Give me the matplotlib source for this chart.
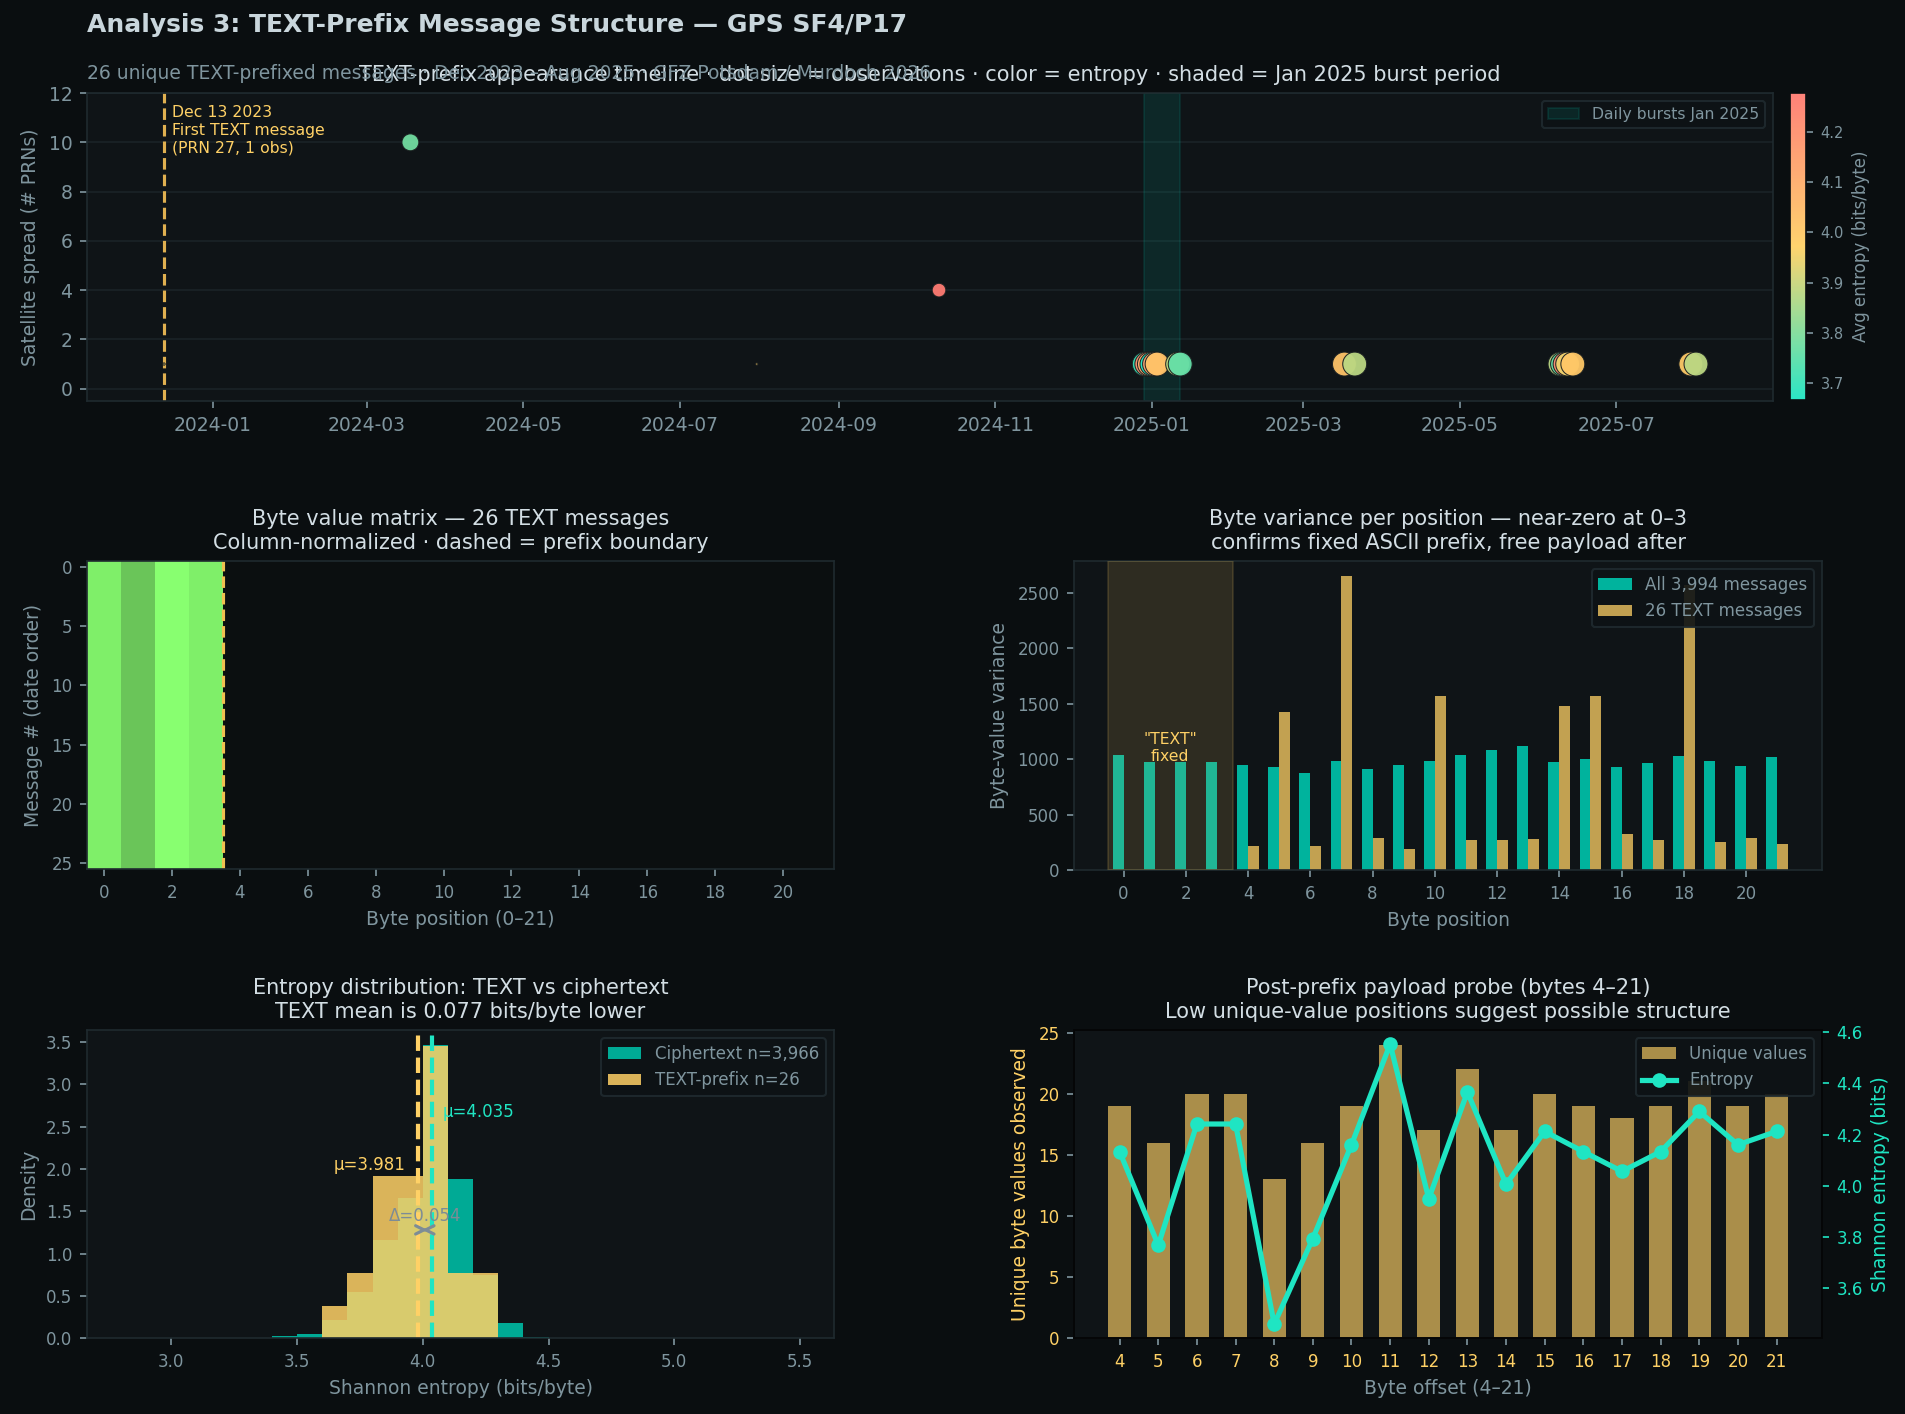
import numpy as np
import pandas as pd
import matplotlib
matplotlib.use("Agg")
import matplotlib.pyplot as plt
import matplotlib.dates as mdates
from matplotlib.colors import LinearSegmentedColormap

# ---------------- data ----------------
# timeline: one dot per day with TEXT-prefix messages
msg_dates = ["2023-12-13", "2024-03-18", "2024-07-31", "2024-10-10",
             "2024-12-29", "2024-12-30", "2024-12-31", "2025-01-01",
             "2025-01-02", "2025-01-03", "2025-01-11", "2025-01-12",
             "2025-03-17", "2025-03-21",
             "2025-06-09", "2025-06-10", "2025-06-11", "2025-06-12", "2025-06-14",
             "2025-07-30", "2025-08-01"]
msg_prns = [1, 10, 1, 4,
            1, 1, 1, 1,
            1, 1, 1, 1,
            1, 1,
            1, 1, 1, 1, 1,
            1, 1]
msg_obs = [1, 55, 1, 36,
           110, 110, 110, 110,
           110, 110, 110, 110,
           110, 110,
           110, 110, 110, 110, 110,
           110, 110]
msg_entropy = [3.96, 3.78, 3.98, 4.278,
               3.70, 4.20, 4.10, 3.666,
               4.15, 4.02, 3.88, 3.76,
               4.02, 3.88,
               3.88, 3.76, 4.22, 3.95, 4.01,
               4.00, 3.88]
first_msg = "2023-12-13"
burst_start, burst_end = "2024-12-29", "2025-01-12"

# byte value matrix (column-normalized level per byte position)
n_msgs = 26
byte_levels = [0.93, 0.76, 1.0, 0.93] + [0.0] * 18

# byte variance per position
var_all = [1037, 974, 974, 974, 947, 929, 875, 983, 911, 947, 983,
           1037, 1082, 1118, 974, 1001, 929, 965, 1028, 983, 938, 1019]
var_text = [0, 0, 0, 0, 216, 1425, 216, 2653, 289, 189, 1569,
            271, 271, 280, 1479, 1569, 325, 271, 2570, 253, 289, 234]

# entropy histograms (density, bins of 0.1 from 2.8 to 5.5)
hist_edges = np.round(np.linspace(2.8, 5.5, 28), 2)
cipher_density = [0] * 6 + [0.02, 0.043, 0.21, 0.55, 1.16, 1.66, 3.47,
                            1.887, 0.75, 0.173, 0.01] + [0] * 10
text_density = [0] * 8 + [0.385, 0.77, 1.92, 1.92, 3.46, 0.77, 0.77] + [0] * 12
mean_text, mean_cipher = 3.981, 4.035

# post-prefix probe
probe_offsets = list(range(4, 22))
probe_unique = [19, 16, 20, 20, 13, 16, 19, 24, 17, 22, 17, 20, 19, 18, 19, 21, 19, 20]
probe_entropy = [4.133, 3.768, 4.241, 4.241, 3.46, 3.794, 4.160, 4.553, 3.949,
                 4.366, 4.006, 4.212, 4.133, 4.056, 4.133, 4.290, 4.160, 4.212]

# ---------------- style ----------------
BG = "#0a0e10"
AX_BG = "#0f1417"
SPINE = "#1f2a2f"
TXT = "#d3dee4"
MUTED = "#7f959e"
TEAL = "#00b39d"
TEAL_LINE = "#1fe5c3"
GOLD = "#ffd166"

plt.rcParams["font.family"] = ["DejaVu Sans"]


def style_axes(ax, spine=SPINE, size=8):
    ax.set_facecolor(AX_BG)
    for s in ax.spines.values():
        s.set_color(spine)
    ax.tick_params(colors=MUTED, labelsize=size)


def style_legend(leg):
    leg.get_frame().set_facecolor("#0d1215")
    leg.get_frame().set_edgecolor(SPINE)
    leg.get_frame().set_alpha(0.9)
    for t in leg.get_texts():
        t.set_color(MUTED)


fig = plt.figure(figsize=(12.7, 9.4267), dpi=150, facecolor=BG)

fig.text(0.0457, 0.982, "Analysis 3: TEXT-Prefix Message Structure \u2014 GPS SF4/P17",
         fontsize=12, fontweight="bold", color="#c9d6dc", va="center")
fig.text(0.0457, 0.948, "26 unique TEXT-prefixed messages \u00b7 Dec 2023 \u2013 Aug 2025 \u00b7 "
         "GFZ Potsdam / Murdoch 2026", fontsize=9, color=MUTED, va="center")

# ---- timeline ----
ax1 = fig.add_axes([0.0457, 0.7164, 0.885, 0.2178])
cax = fig.add_axes([0.9396, 0.7171, 0.0084, 0.2171])
style_axes(ax1, size=9)
cmap = LinearSegmentedColormap.from_list("ent", ["#1fe5c3", "#ffd166", "#ff7b72"])
dates = pd.to_datetime(msg_dates)
ax1.axvspan(pd.Timestamp(burst_start), pd.Timestamp(burst_end), facecolor=TEAL,
            alpha=0.13, edgecolor=TEAL, lw=1, label="Daily bursts Jan 2025", zorder=1)
sc = ax1.scatter(dates, msg_prns, s=np.array(msg_obs) * 1.2, c=msg_entropy, cmap=cmap,
                 edgecolors="#1a1f20", linewidths=0.5, alpha=0.95, zorder=3)
ax1.axvline(pd.Timestamp(first_msg), color="#e0b050", ls="--", lw=1.5, zorder=2)
ax1.text(pd.Timestamp(first_msg) + pd.Timedelta(days=3), 11.5,
         "Dec 13 2023\nFirst TEXT message\n(PRN 27, 1 obs)",
         color=GOLD, fontsize=7.5, va="top", ha="left")
ax1.set_xlim(dates.min() - pd.Timedelta(days=30), dates.max() + pd.Timedelta(days=30))
ax1.set_ylim(-0.5, 12)
ax1.xaxis.set_major_locator(mdates.MonthLocator(bymonth=[1, 3, 5, 7, 9, 11]))
ax1.xaxis.set_major_formatter(mdates.DateFormatter("%Y-%m"))
ax1.grid(axis="y", color="#1a2327", lw=0.8)
ax1.set_axisbelow(True)
ax1.set_ylabel("Satellite spread (# PRNs)", color=MUTED, fontsize=9)
ax1.set_title("TEXT-prefix appearance timeline \u00b7 dot size = observations \u00b7 "
              "color = entropy \u00b7 shaded = Jan 2025 burst period",
              color=TXT, fontsize=10, pad=6)
style_legend(ax1.legend(loc="upper right", fontsize=7.5))
cb = fig.colorbar(sc, cax=cax)
cb.set_label("Avg entropy (bits/byte)", color=MUTED, fontsize=8)
cb.ax.tick_params(colors=MUTED, labelsize=7)
cb.outline.set_edgecolor(BG)

# ---- byte matrix ----
ax2 = fig.add_axes([0.0457, 0.3854, 0.3921, 0.2178])
style_axes(ax2)
heat_cmap = LinearSegmentedColormap.from_list("heat", ["#0b0f10", "#88ff70"])
mat = np.tile(byte_levels, (n_msgs, 1))
ax2.imshow(mat, aspect="auto", cmap=heat_cmap, vmin=0, vmax=1, interpolation="nearest")
ax2.axvline(3.5, color="#f0c050", ls="--", lw=1.5)
ax2.set_xticks(range(0, 22, 2))
ax2.set_xlabel("Byte position (0\u201321)", color=MUTED, fontsize=9)
ax2.set_ylabel("Message # (date order)", color=MUTED, fontsize=9)
ax2.set_title("Byte value matrix \u2014 26 TEXT messages\n"
              "Column-normalized \u00b7 dashed = prefix boundary", color=TXT, fontsize=10)

# ---- byte variance ----
ax3 = fig.add_axes([0.5638, 0.3847, 0.3927, 0.2185])
style_axes(ax3)
xpos = np.arange(len(var_all))
ax3.bar(xpos - 0.175, var_all, 0.35, color=TEAL, label="All 3,994 messages")
ax3.bar(xpos + 0.175, var_text, 0.35, color=GOLD, alpha=0.75, label="26 TEXT messages")
ax3.axvspan(-0.5, 3.5, facecolor=GOLD, alpha=0.13, edgecolor=GOLD, lw=1, zorder=3)
ax3.text(1.5, 1100, '"TEXT"\nfixed', color=GOLD, fontsize=7.5, ha="center",
         va="center", zorder=4)
ax3.set_xticks(range(0, 22, 2))
ax3.set_xlabel("Byte position", color=MUTED, fontsize=9)
ax3.set_ylabel("Byte-value variance", color=MUTED, fontsize=9)
ax3.set_title("Byte variance per position \u2014 near-zero at 0\u20133\n"
              "confirms fixed ASCII prefix, free payload after", color=TXT, fontsize=10)
style_legend(ax3.legend(loc="upper right", fontsize=8))

# ---- entropy distribution ----
ax4 = fig.add_axes([0.0457, 0.0537, 0.3921, 0.2178])
style_axes(ax4)
ax4.hist(hist_edges[:-1], bins=hist_edges, weights=cipher_density, color=TEAL,
         alpha=0.95, label="Ciphertext n=3,966")
ax4.hist(hist_edges[:-1], bins=hist_edges, weights=text_density, color=GOLD,
         alpha=0.85, label="TEXT-prefix n=26")
ax4.axvline(mean_text, color=GOLD, ls="--", lw=2)
ax4.axvline(mean_cipher, color=TEAL_LINE, ls="--", lw=2)
ax4.text(mean_text - 0.05, 2.05, f"\u03bc={mean_text:.3f}", color=GOLD, fontsize=8,
         ha="right", va="center")
ax4.text(mean_cipher + 0.045, 2.68, f"\u03bc={mean_cipher:.3f}", color=TEAL_LINE,
         fontsize=8, ha="left", va="center")
ax4.annotate("", xy=(mean_text, 1.28), xytext=(mean_cipher, 1.28),
             arrowprops=dict(arrowstyle="<->", color="#7d8c96", lw=1.5))
ax4.text((mean_text + mean_cipher) / 2, 1.44, f"\u0394={mean_cipher - mean_text:.3f}",
         color="#7d8c96", fontsize=8, ha="center", va="center")
ax4.set_xlabel("Shannon entropy (bits/byte)", color=MUTED, fontsize=9)
ax4.set_ylabel("Density", color=MUTED, fontsize=9)
ax4.set_title("Entropy distribution: TEXT vs ciphertext\n"
              "TEXT mean is 0.077 bits/byte lower", color=TXT, fontsize=10)
style_legend(ax4.legend(loc="upper right", fontsize=8))

# ---- payload probe ----
ax5 = fig.add_axes([0.5638, 0.0537, 0.3927, 0.2178])
style_axes(ax5, spine="#050607")
b = ax5.bar(probe_offsets, probe_unique, 0.6, color=GOLD, alpha=0.65, label="Unique values")
ax5b = ax5.twinx()
for s in ax5b.spines.values():
    s.set_color("#050607")
ln, = ax5b.plot(probe_offsets, probe_entropy, "-o", color=TEAL_LINE, lw=2.5, ms=6,
                label="Entropy")
ax5.set_xticks(probe_offsets)
ax5.tick_params(axis="x", colors=MUTED, labelcolor=GOLD)
ax5.tick_params(axis="y", colors=MUTED, labelcolor=GOLD)
ax5b.tick_params(axis="y", colors=TEAL_LINE, labelcolor=TEAL_LINE, labelsize=8)
ax5.set_xlabel("Byte offset (4\u201321)", color=MUTED, fontsize=9)
ax5.set_ylabel("Unique byte values observed", color=GOLD, fontsize=9)
ax5b.set_ylabel("Shannon entropy (bits)", color=TEAL_LINE, fontsize=9)
ax5.set_title("Post-prefix payload probe (bytes 4\u201321)\n"
              "Low unique-value positions suggest possible structure", color=TXT, fontsize=10)
style_legend(ax5b.legend([b, ln], ["Unique values", "Entropy"], loc="upper right", fontsize=8))

fig.savefig("out.png", dpi=150, facecolor=BG)
